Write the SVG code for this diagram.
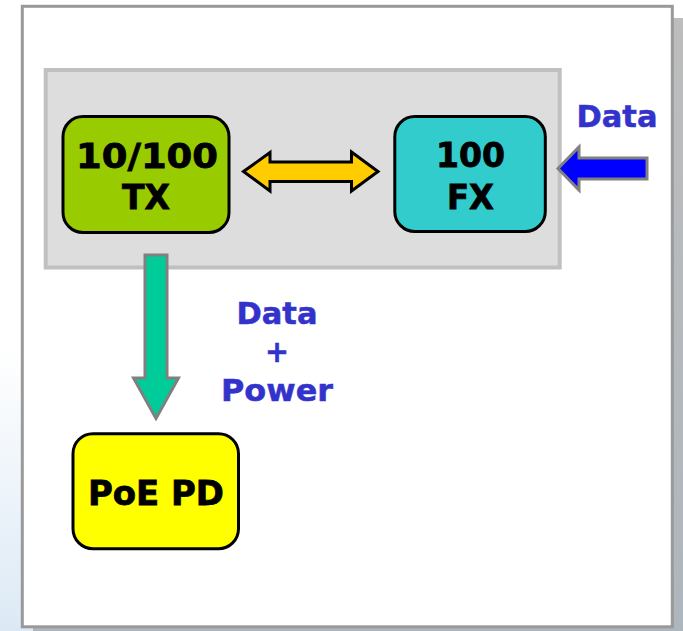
<svg xmlns="http://www.w3.org/2000/svg" width="683" height="631" viewBox="0 0 683 631">
<style>
text{font-family:"DejaVu Sans",sans-serif;font-weight:700;text-anchor:middle}
.n{font-size:34px;fill:#000;stroke:#000;stroke-width:.8}
.l{font-size:30px;fill:#3333cc;stroke:#3333cc;stroke-width:.5}
.b{stroke:#000;stroke-width:3}
</style>
<defs>
<linearGradient id="bg" x1="0" y1="0" x2="0" y2="1"><stop offset="0.55" stop-color="#ffffff"/><stop offset="1" stop-color="#dce9f5"/></linearGradient>
<linearGradient id="sh" x1="0" y1="0" x2="0" y2="1"><stop offset="0" stop-color="#bdbdbd"/><stop offset="1" stop-color="#aeb6bd"/></linearGradient>
</defs>
<rect width="683" height="631" fill="url(#bg)"/>
<rect x="33" y="18" width="650" height="613" fill="url(#sh)"/>
<rect id="frame" x="22.300" y="6.300" width="650" height="620.500" fill="#fff" stroke="#999" stroke-width="3"/>
<rect id="panel" x="45.700" y="70" width="514" height="197.500" fill="#ddd" stroke="#c0c0c0" stroke-width="4"/>
<g id="connectors">
<path id="link" d="M243.500 171.500L270 152.500V162H351.500V152L378 171.500L351.500 191V181.500H270V191Z" fill="#ffcc00" stroke="#000" stroke-width="3"/>
<path id="data-in" d="M558 168.500L579 147V158H647V179H579V190Z" fill="#0000ff" stroke="#808080" stroke-width="3"/>
<path id="power" d="M145 255H167V378H178.500L156 418.500L133.500 378H145Z" fill="#00cc99" stroke="#808080" stroke-width="3"/>
</g>
<g id="node-tx"><rect class="b" x="63" y="116.500" width="166" height="116" rx="20" fill="#99cc00"/><text class="n" x="147" y="168" textLength="142" lengthAdjust="spacingAndGlyphs">10/100</text><text class="n" x="146" y="209" textLength="48" lengthAdjust="spacingAndGlyphs">TX</text></g>
<g id="node-fx"><rect class="b" x="394.800" y="116.500" width="150.500" height="115" rx="20" fill="#33cccc"/><text class="n" x="470.500" y="167" textLength="69" lengthAdjust="spacingAndGlyphs">100</text><text class="n" x="470.500" y="208.500" textLength="47" lengthAdjust="spacingAndGlyphs">FX</text></g>
<g id="node-pd"><rect class="b" x="73" y="433.700" width="165.500" height="115" rx="20" fill="#ffff00"/><text class="n" x="156" y="505" textLength="136" lengthAdjust="spacingAndGlyphs">PoE PD</text></g>
<g id="labels">
<text class="l" x="617" y="127" textLength="81" lengthAdjust="spacingAndGlyphs">Data</text>
<text class="l" x="277" y="324" textLength="81" lengthAdjust="spacingAndGlyphs">Data</text>
<text class="l" x="277" y="362" textLength="24" lengthAdjust="spacingAndGlyphs">+</text>
<text class="l" x="277" y="400.500" textLength="112" lengthAdjust="spacingAndGlyphs">Power</text>
</g>
</svg>
